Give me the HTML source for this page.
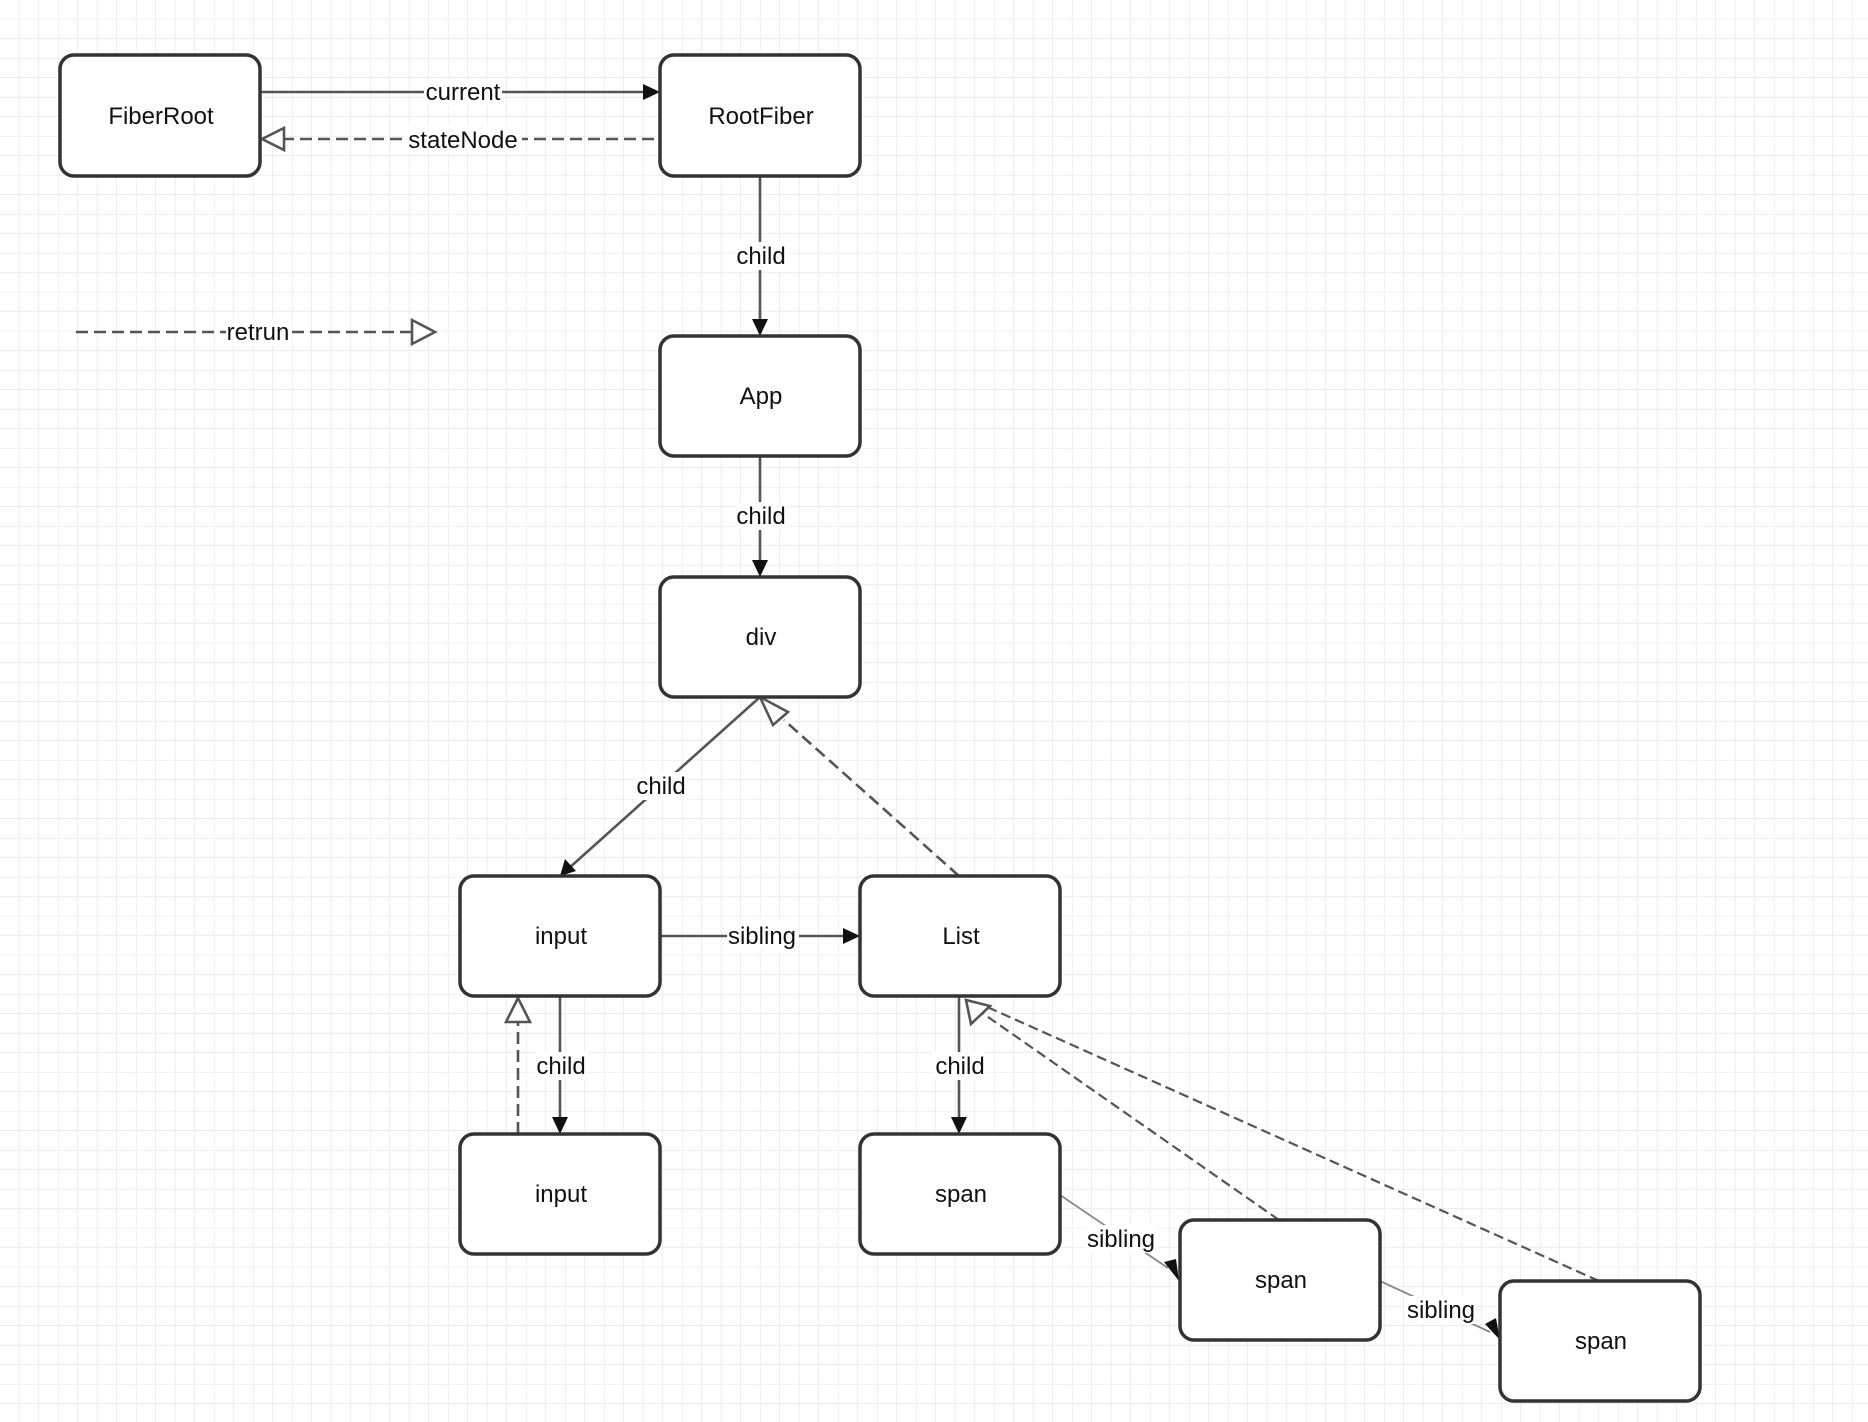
<!DOCTYPE html>
<html><head><meta charset="utf-8"><style>
html,body{margin:0;padding:0;background:#fff;}
svg{display:block;}
text{font-family:"Liberation Sans",Arial,sans-serif;font-size:24px;fill:#111;}
</style></head><body>
<svg width="1868" height="1422" viewBox="0 0 1868 1422" xmlns="http://www.w3.org/2000/svg">
<defs>
<pattern id="g" width="19.5" height="19.5" patternUnits="userSpaceOnUse">
<path d="M19.5 0V19.5H0" fill="none" stroke="#e1e4ed" stroke-width="1.3"/>
</pattern>
</defs>
<rect width="1868" height="1422" fill="url(#g)"/>

<g fill="none" stroke="#555" stroke-width="2.6">
<line x1="260" y1="92" x2="650" y2="92"/>
<line x1="282" y1="139" x2="660" y2="139" stroke-dasharray="12,6"/>
<line x1="76" y1="332" x2="412" y2="332" stroke-dasharray="12,6"/>
<line x1="760" y1="176" x2="760" y2="322"/>
<line x1="760" y1="456" x2="760" y2="563"/>
<line x1="760" y1="697" x2="568" y2="869"/>
<line x1="959" y1="876" x2="784" y2="720" stroke-dasharray="12,6"/>
<line x1="660" y1="936" x2="846" y2="936"/>
<line x1="560" y1="996" x2="560" y2="1120"/>
<line x1="518" y1="1134" x2="518" y2="1022" stroke-dasharray="12,6"/>
<line x1="959" y1="996" x2="959" y2="1120"/>
<line x1="1279" y1="1220" x2="978" y2="1010" stroke-dasharray="10,5" stroke-width="2.2"/>
<line x1="1599" y1="1281" x2="985" y2="1006" stroke-dasharray="10,5" stroke-width="2.2"/>
<line x1="1060" y1="1195" x2="1168" y2="1268" stroke="#888" stroke-width="1.8"/>
<line x1="1380" y1="1281" x2="1490" y2="1332" stroke="#888" stroke-width="1.8"/>
</g>

<g fill="#111">
<polygon points="660,92 643,84 643,100"/>
<polygon points="760,336 752,319 768,319"/>
<polygon points="760,577 752,560 768,560"/>
<polygon points="560,876 565,859 576,871"/>
<polygon points="860,936 843,928 843,944"/>
<polygon points="560,1134 552,1117 568,1117"/>
<polygon points="959,1134 951,1117 967,1117"/>
<polygon points="1179,1281 1164,1262 1176,1259"/>
<polygon points="1500,1340 1485,1324 1496,1318"/>
</g>
<g fill="#fff" stroke="#555" stroke-width="2.6">
<polygon points="262,139 284,128 284,150"/>
<polygon points="435,332 412,320 412,344"/>
<polygon points="760,697 788,712 773,725"/>
<polygon points="518,998 506,1022 530,1022"/>
<polygon points="966,1000 990,1006 971,1024"/>
</g>

<g fill="#fff">
<rect x="424" y="78" width="78" height="28"/>
<rect x="404" y="125" width="118" height="28"/>
<rect x="226" y="318" width="66" height="28"/>
<rect x="735" y="242" width="52" height="28"/>
<rect x="735" y="502" width="52" height="28"/>
<rect x="635" y="772" width="52" height="28"/>
<rect x="727" y="922" width="72" height="28"/>
<rect x="535" y="1052" width="52" height="28"/>
<rect x="933" y="1052" width="52" height="28"/>
<rect x="1085" y="1225" width="72" height="28"/>
<rect x="1405" y="1296" width="72" height="28"/>
</g>
<g text-anchor="middle">
<text x="463" y="100">current</text>
<text x="463" y="148">stateNode</text>
<text x="258" y="340">retrun</text>
<text x="761" y="264">child</text>
<text x="761" y="524">child</text>
<text x="661" y="794">child</text>
<text x="762" y="944">sibling</text>
<text x="561" y="1074">child</text>
<text x="960" y="1074">child</text>
<text x="1121" y="1247">sibling</text>
<text x="1441" y="1318">sibling</text>
</g>

<g fill="#fff" stroke="#333" stroke-width="3.5">
<rect x="60" y="55" width="200" height="121" rx="14"/>
<rect x="660" y="55" width="200" height="121" rx="14"/>
<rect x="660" y="336" width="200" height="120" rx="14"/>
<rect x="660" y="577" width="200" height="120" rx="14"/>
<rect x="460" y="876" width="200" height="120" rx="14"/>
<rect x="860" y="876" width="200" height="120" rx="14"/>
<rect x="460" y="1134" width="200" height="120" rx="14"/>
<rect x="860" y="1134" width="200" height="120" rx="14"/>
<rect x="1180" y="1220" width="200" height="120" rx="14"/>
<rect x="1500" y="1281" width="200" height="120" rx="14"/>
</g>
<g text-anchor="middle">
<text x="161" y="124">FiberRoot</text>
<text x="761" y="124">RootFiber</text>
<text x="761" y="404">App</text>
<text x="761" y="645">div</text>
<text x="561" y="944">input</text>
<text x="961" y="944">List</text>
<text x="561" y="1202">input</text>
<text x="961" y="1202">span</text>
<text x="1281" y="1288">span</text>
<text x="1601" y="1349">span</text>
</g>
</svg>
</body></html>
